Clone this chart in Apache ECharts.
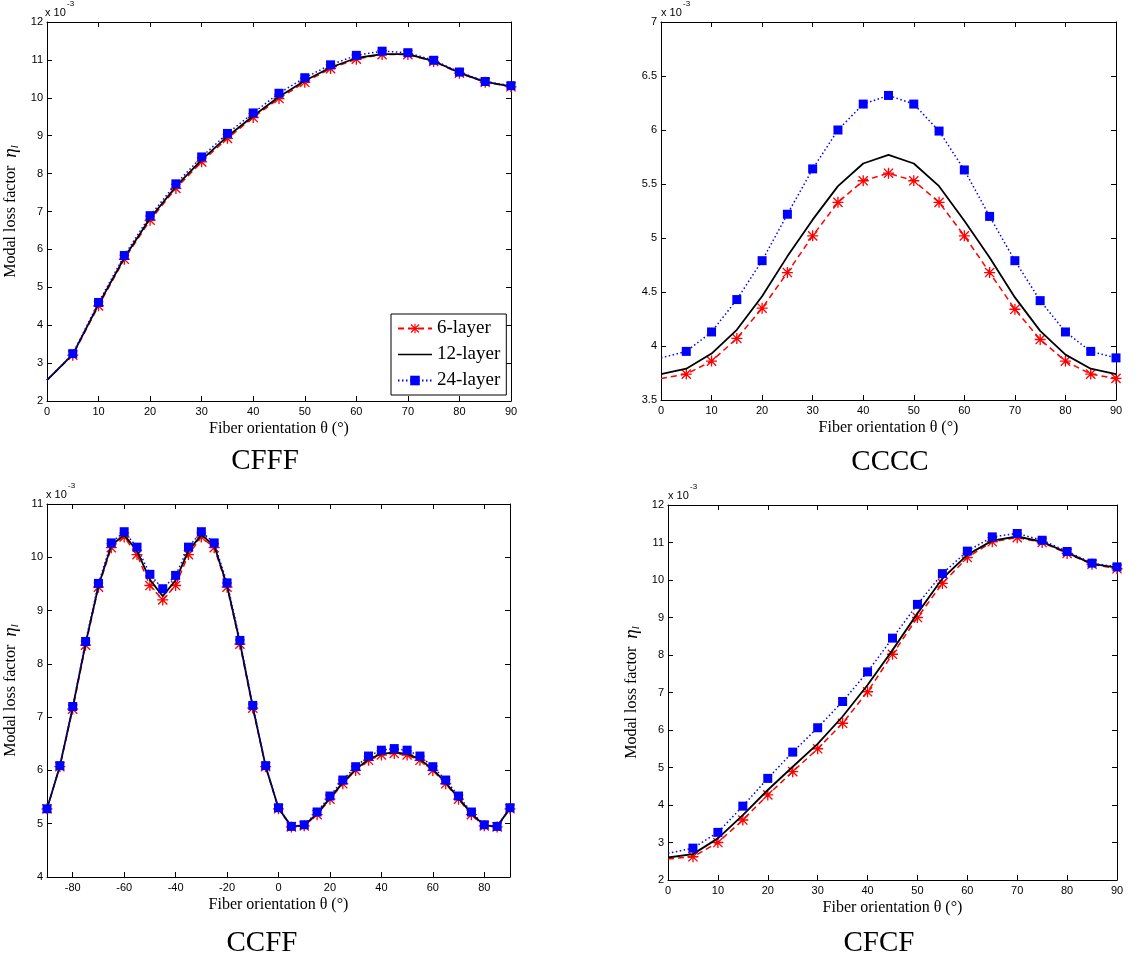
<!DOCTYPE html>
<html>
<head>
<meta charset="utf-8">
<title>Modal loss factor vs fiber orientation</title>
<script src="https://cdn.jsdelivr.net/npm/echarts@6/dist/echarts.min.js"></script>
<style>
  html, body { margin: 0; padding: 0; background: #fff; }
  #chart { width: 1143px; height: 958px; }
</style>
</head>
<body>
<div id="chart"></div>
<script>
// Fiber orientation angles (degrees)
const anglesHalf = [0, 5, 10, 15, 20, 25, 30, 35, 40, 45, 50, 55, 60, 65, 70, 75, 80, 85, 90];
const anglesFull = [-90, -85, -80, -75, -70, -65, -60, -55, -50, -45, -40, -35, -30, -25, -20, -15, -10, -5,
                    0, 5, 10, 15, 20, 25, 30, 35, 40, 45, 50, 55, 60, 65, 70, 75, 80, 85, 90];

// Modal loss factor, in units of 1e-3
const cfff6  = [2.55, 3.21, 4.51, 5.74, 6.77, 7.61, 8.31, 8.93, 9.48, 9.98, 10.41, 10.77, 11.02, 11.14, 11.14, 10.96, 10.65, 10.41, 10.29];
const cfff12 = [2.55, 3.23, 4.55, 5.78, 6.82, 7.66, 8.36, 8.98, 9.52, 10.03, 10.45, 10.80, 11.05, 11.15, 11.15, 10.97, 10.66, 10.42, 10.30];
const cfff24 = [2.55, 3.25, 4.60, 5.84, 6.89, 7.73, 8.44, 9.06, 9.60, 10.12, 10.53, 10.87, 11.12, 11.23, 11.19, 10.99, 10.68, 10.43, 10.32];

const cccc6  = [3.70, 3.74, 3.86, 4.07, 4.35, 4.68, 5.02, 5.33, 5.53, 5.60, 5.53, 5.33, 5.02, 4.68, 4.34, 4.06, 3.86, 3.74, 3.70];
const cccc12 = [3.74, 3.79, 3.93, 4.15, 4.46, 4.83, 5.17, 5.48, 5.69, 5.77, 5.69, 5.48, 5.16, 4.82, 4.45, 4.14, 3.92, 3.79, 3.74];
const cccc24 = [3.89, 3.95, 4.13, 4.43, 4.79, 5.22, 5.64, 6.00, 6.24, 6.32, 6.24, 5.99, 5.63, 5.20, 4.79, 4.42, 4.13, 3.95, 3.89];

const ccff6  = [5.28, 6.07, 7.15, 8.35, 9.44, 10.18, 10.38, 10.05, 9.47, 9.20, 9.47, 10.05, 10.38, 10.18, 9.44, 8.37, 7.17, 6.07,
                5.28, 4.94, 4.96, 5.17, 5.46, 5.75, 6.00, 6.19, 6.29, 6.32, 6.29, 6.19, 6.00, 5.75, 5.46, 5.17, 4.96, 4.94, 5.28];
const ccff12 = [5.28, 6.08, 7.18, 8.38, 9.46, 10.22, 10.42, 10.12, 9.58, 9.27, 9.57, 10.12, 10.42, 10.22, 9.47, 8.40, 7.19, 6.08,
                5.29, 4.95, 4.97, 5.19, 5.48, 5.77, 6.02, 6.21, 6.31, 6.34, 6.31, 6.21, 6.02, 5.77, 5.48, 5.19, 4.97, 4.95, 5.29];
const ccff24 = [5.28, 6.09, 7.20, 8.42, 9.51, 10.27, 10.48, 10.19, 9.68, 9.41, 9.66, 10.19, 10.48, 10.27, 9.52, 8.44, 7.22, 6.09,
                5.30, 4.95, 4.98, 5.22, 5.52, 5.82, 6.07, 6.27, 6.38, 6.41, 6.38, 6.27, 6.07, 5.82, 5.52, 5.22, 4.98, 4.95, 5.30];

const cfcf6  = [2.56, 2.62, 3.00, 3.60, 4.27, 4.89, 5.50, 6.18, 7.02, 8.02, 9.00, 9.91, 10.60, 11.02, 11.13, 11.00, 10.71, 10.42, 10.30];
const cfcf12 = [2.60, 2.69, 3.11, 3.73, 4.40, 5.02, 5.63, 6.36, 7.20, 8.13, 9.11, 10.04, 10.67, 11.05, 11.16, 11.02, 10.73, 10.43, 10.33];
const cfcf24 = [2.71, 2.85, 3.27, 3.97, 4.71, 5.41, 6.06, 6.76, 7.55, 8.45, 9.35, 10.17, 10.77, 11.15, 11.24, 11.06, 10.76, 10.45, 10.35];

// Tick positions for the symmetric (-90..90) angle axis
const fullAngleTicks = [-80, -60, -40, -20, 0, 20, 40, 60, 80];

const layerNames = ['6-layer', '12-layer', '24-layer'];
const boundaryNames = ['CFFF', 'CCCC', 'CCFF', 'CFCF'];

const SERIF = 'Liberation Serif';
const SANS = 'Liberation Sans';

// Eight-armed asterisk marker
const ASTERISK = 'path://M8.8 0 H11.2 V20 H8.8 Z M0 8.8 H20 V11.2 H0 Z ' +
                 'M0.8 2.5 L2.5 0.8 L19.2 17.5 L17.5 19.2 Z M17.5 0.8 L19.2 2.5 L2.5 19.2 L0.8 17.5 Z';
// Plain line sample used as the legend icon of the unmarked series
const LINE_ICON = 'path://M0 0 H34 V1.7 H0 Z';

const panels = [
  { title: boundaryNames[0], x: anglesHalf, series: [cfff6, cfff12, cfff24],
    grid: { left: 45, top: 22, width: 466, height: 379 },
    yMin: 2, yMax: 12, yStep: 1, xMin: 0, xMax: 90, xStep: 10,
    yName: true, markFirst: false, titlePos: [265, 461] },
  { title: boundaryNames[1], x: anglesHalf, series: [cccc6, cccc12, cccc24],
    grid: { left: 661, top: 22, width: 455, height: 378 },
    yMin: 3.5, yMax: 7, yStep: 0.5, xMin: 0, xMax: 90, xStep: 10,
    yName: false, markFirst: false, titlePos: [890, 462] },
  { title: boundaryNames[2], x: anglesFull, series: [ccff6, ccff12, ccff24],
    grid: { left: 46, top: 504, width: 464, height: 373 },
    yMin: 4, yMax: 11, yStep: 1, xMin: -90, xMax: 90, xTicks: fullAngleTicks,
    yName: true, markFirst: true, titlePos: [262, 943] },
  { title: boundaryNames[3], x: anglesHalf, series: [cfcf6, cfcf12, cfcf24],
    grid: { left: 668, top: 505, width: 449, height: 375 },
    yMin: 2, yMax: 12, yStep: 1, xMin: 0, xMax: 90, xStep: 10,
    yName: true, markFirst: false, titlePos: [879, 943] }
];

const seriesStyles = [
  { color: '#ff0000', lineType: [6, 4], width: 1.5, symbol: ASTERISK, symbolSize: 11 },
  { color: '#000000', lineType: 'solid', width: 1.8, symbol: 'none', symbolSize: 0 },
  { color: '#0000ff', lineType: [1.5, 2.5], width: 1.5, symbol: 'rect', symbolSize: 9 }
];

const axisLineStyle = { show: true, onZero: false, lineStyle: { color: '#000', width: 1 } };
const tickStyle = { show: true, inside: true, length: 5, lineStyle: { color: '#000', width: 1 } };
const labelStyle = { color: '#000', fontFamily: SANS, fontSize: 11 };

const grids = [], xAxes = [], yAxes = [], series = [], graphics = [];

panels.forEach((p, pi) => {
  grids.push(Object.assign({ containLabel: false }, p.grid));

  const xBase = { type: 'value', gridIndex: pi, min: p.xMin, max: p.xMax, splitLine: { show: false } };
  if (p.xTicks) {
    xBase.axisTick = Object.assign({}, tickStyle, { customValues: p.xTicks });
  } else {
    xBase.interval = p.xStep;
    xBase.axisTick = tickStyle;
  }
  const xLabel = Object.assign({ margin: 5 }, labelStyle);
  if (p.xTicks) xLabel.customValues = p.xTicks;

  xAxes.push(Object.assign({}, xBase, {
    position: 'bottom', axisLine: axisLineStyle, axisLabel: xLabel,
    name: 'Fiber orientation θ (°)', nameLocation: 'middle', nameGap: 20,
    nameTextStyle: { fontFamily: SERIF, fontSize: 16, color: '#000' }
  }));
  xAxes.push(Object.assign({}, xBase, {
    position: 'top', axisLine: axisLineStyle, axisLabel: { show: false }
  }));

  const yBase = { type: 'value', gridIndex: pi, min: p.yMin, max: p.yMax, interval: p.yStep,
                  splitLine: { show: false }, axisTick: tickStyle };
  const yLeft = Object.assign({}, yBase, {
    position: 'left', axisLine: axisLineStyle,
    axisLabel: Object.assign({ margin: 4 }, labelStyle)
  });
  if (p.yName) {
    Object.assign(yLeft, {
      name: 'Modal loss factor  {eta|η}{sub|l}',
      nameLocation: 'middle', nameRotate: 90, nameGap: 26,
      nameTextStyle: {
        fontFamily: SERIF, fontSize: 16, color: '#000', lineHeight: 20,
        rich: {
          eta: { fontFamily: SERIF, fontSize: 19, fontStyle: 'italic', color: '#000', lineHeight: 20 },
          sub: { fontFamily: SERIF, fontSize: 11, fontStyle: 'italic', color: '#000',
                 lineHeight: 10, verticalAlign: 'bottom' }
        }
      }
    });
  }
  yAxes.push(yLeft);
  yAxes.push(Object.assign({}, yBase, {
    position: 'right', axisLine: axisLineStyle, axisLabel: { show: false }
  }));

  p.series.forEach((vals, si) => {
    const st = seriesStyles[si];
    const data = p.x.map((xv, i) => {
      const item = { value: [xv, vals[i]] };
      if (i === 0 && !p.markFirst) item.symbol = 'none';
      return item;
    });
    series.push({
      type: 'line', name: layerNames[si],
      xAxisIndex: pi * 2, yAxisIndex: pi * 2,
      data: data, clip: false, animation: false, silent: true,
      z: 2 + si,
      symbol: st.symbol, symbolSize: st.symbolSize,
      itemStyle: { color: st.color, borderWidth: 0 },
      lineStyle: { color: st.color, width: st.width, type: st.lineType }
    });
  });

  // scale factor label above each plot
  const g = p.grid;
  graphics.push({
    type: 'text', left: g.left, top: g.top - 15, silent: true,
    style: { text: 'x 10', fontFamily: SANS, fontSize: 11, fill: '#000' }
  });
  graphics.push({
    type: 'text', left: g.left + 22, top: g.top - 22, silent: true,
    style: { text: '-3', fontFamily: SANS, fontSize: 8, fill: '#000' }
  });
  // boundary-condition caption
  graphics.push({
    type: 'text', x: p.titlePos[0], y: p.titlePos[1], silent: true,
    style: { text: p.title, fontFamily: SERIF, fontSize: 29, fill: '#000',
             align: 'center', verticalAlign: 'middle' }
  });
});

const chart = echarts.init(document.getElementById('chart'), null, { renderer: 'canvas' });
chart.setOption({
  backgroundColor: '#fff',
  animation: false,
  grid: grids,
  xAxis: xAxes,
  yAxis: yAxes,
  series: series,
  legend: {
    data: [
      { name: layerNames[0] },
      { name: layerNames[1], icon: LINE_ICON },
      { name: layerNames[2] }
    ],
    orient: 'vertical', left: 391, top: 314,
    itemWidth: 34, itemHeight: 12, itemGap: 7,
    padding: [5, 6, 5, 6],
    borderColor: '#000', borderWidth: 1, backgroundColor: '#fff',
    selectedMode: false,
    textStyle: { fontFamily: SERIF, fontSize: 19, color: '#000' }
  },
  graphic: graphics
});
</script>
</body>
</html>
